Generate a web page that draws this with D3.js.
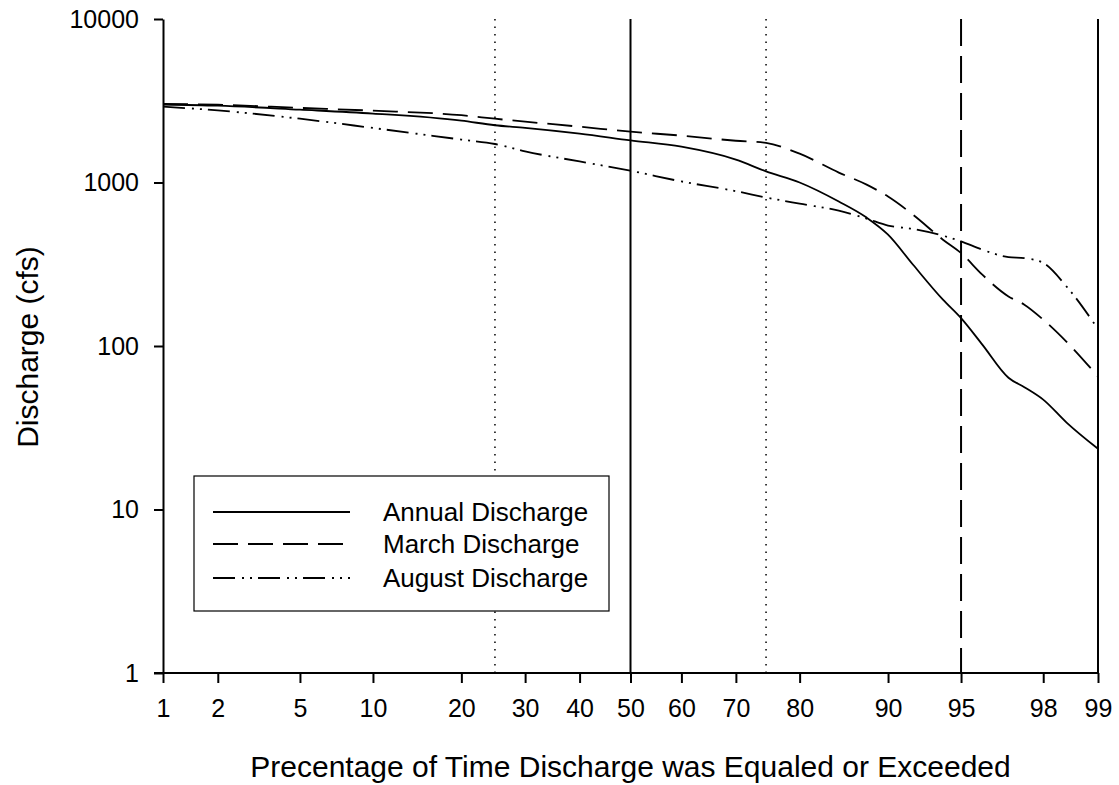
<!DOCTYPE html>
<html>
<head>
<meta charset="utf-8">
<script src="https://cdn.jsdelivr.net/npm/d3@7"></script>
<style>
  body { margin: 0; background: #fff; }
  text { font-family: Arial, "Liberation Sans", sans-serif; fill: #000; }
</style>
</head>
<body>
<div id="chart"></div>
<script>
// Exceedance percentages (x) and discharge values (cfs)
var percents = [1, 2, 5, 10, 20, 25, 30, 40, 50, 60, 70, 75, 80, 85, 88, 90, 92, 94, 95, 96, 97, 97.5, 98, 98.5, 99];
var annualQ  = [3000, 2950, 2790, 2640, 2390, 2240, 2160, 1990, 1810, 1655, 1380, 1170, 1000, 765, 610, 480, 315, 192, 148, 102, 64, 56, 47, 34, 23.5];
var marchQ   = [3030, 2990, 2860, 2750, 2580, 2455, 2355, 2195, 2045, 1935, 1800, 1745, 1500, 1150, 970, 820, 636, 447, 370, 273, 201, 179, 145, 106, 65];
var augustQ  = [2910, 2760, 2455, 2155, 1830, 1720, 1550, 1345, 1180, 1015, 885, 810, 742, 672, 601, 545, 520, 473, 437, 388, 350, 345, 322, 231, 127];

var xTicks = [1, 2, 5, 10, 20, 30, 40, 50, 60, 70, 80, 90, 95, 98, 99];
var yTicks = [1, 10, 100, 1000, 10000];
var seriesNames = ["Annual Discharge", "March Discharge", "August Discharge"];

// reference lines: 25/75 dotted, 50 solid, 95 dashed, 99 solid
var refLines = [25, 50, 75, 95, 99];
var refStyles = ["dot", "solid", "dot", "dash", "solid"];

///////////  SVG  ///////////
var svgWidth = 1119;
var svgHeight = 785;

var margin = { top: 19, right: 21, bottom: 112, left: 163 };
var chartWidth = svgWidth - margin.left - margin.right;
var chartHeight = svgHeight - margin.top - margin.bottom;

var svg = d3.select("#chart").append("svg")
    .attr("width", svgWidth)
    .attr("height", svgHeight);

var chartGrp = svg.append("g")
    .attr("transform", `translate(${margin.left}, ${margin.top})`);

// inverse normal CDF (Acklam) -> probability axis
function probit(p) {
    var a = [-3.969683028665376e+01, 2.209460984245205e+02, -2.759285104469687e+02, 1.383577518672690e+02, -3.066479806614716e+01, 2.506628277459239e+00];
    var b = [-5.447609879822406e+01, 1.615858368580409e+02, -1.556989798598866e+02, 6.680131188771972e+01, -1.328068155288572e+01];
    var c = [-7.784894002430293e-03, -3.223964580411365e-01, -2.400758277161838e+00, -2.549671669539434e+00, 4.374664141464968e+00, 2.938163982698783e+00];
    var d = [7.784695709041462e-03, 3.224671290700398e-01, 2.445134137142996e+00, 3.754408661907416e+00];
    var pl = 0.02425, q, r;
    if (p < pl) {
        q = Math.sqrt(-2 * Math.log(p));
        return (((((c[0]*q+c[1])*q+c[2])*q+c[3])*q+c[4])*q+c[5]) / ((((d[0]*q+d[1])*q+d[2])*q+d[3])*q+1);
    }
    if (p > 1 - pl) {
        q = Math.sqrt(-2 * Math.log(1 - p));
        return -(((((c[0]*q+c[1])*q+c[2])*q+c[3])*q+c[4])*q+c[5]) / ((((d[0]*q+d[1])*q+d[2])*q+d[3])*q+1);
    }
    q = p - 0.5; r = q * q;
    return (((((a[0]*r+a[1])*r+a[2])*r+a[3])*r+a[4])*r+a[5])*q / (((((b[0]*r+b[1])*r+b[2])*r+b[3])*r+b[4])*r+1);
}

var zScale = d3.scaleLinear()
    .domain([probit(0.01), probit(0.99)])
    .range([0, chartWidth]);
function xPos(p) { return zScale(probit(p / 100)); }

var yScale = d3.scaleLog()
    .domain([1, 10000])
    .range([chartHeight, 0]);

///////////  Reference lines  ///////////
var dashFor = { dot: "1.5,6", dash: "27,10", solid: null };
chartGrp.selectAll(".ref").data(refLines).enter().append("line")
    .attr("x1", d => xPos(d)).attr("x2", d => xPos(d))
    .attr("y1", 0).attr("y2", chartHeight)
    .attr("stroke", "#000")
    .attr("stroke-width", (d, i) => refStyles[i] === "dot" ? 1.5 : 2)
    .attr("stroke-dasharray", (d, i) => dashFor[refStyles[i]]);

///////////  Axes  ///////////
var bottomAxis = d3.axisBottom(zScale)
    .tickValues(xTicks.map(p => probit(p / 100)))
    .tickFormat((d, i) => xTicks[i])
    .tickSize(10).tickSizeOuter(0).tickPadding(16);

var xAxis = chartGrp.append("g")
    .attr("transform", `translate(0, ${chartHeight})`)
    .call(bottomAxis);

var leftAxis = d3.axisLeft(yScale)
    .tickValues(yTicks)
    .tickFormat(d3.format("d"))
    .tickSize(9).tickSizeOuter(0).tickPadding(15);

var yAxis = chartGrp.append("g").call(leftAxis);

[xAxis, yAxis].forEach(function(ax) {
    ax.select(".domain").attr("stroke", "#000").attr("stroke-width", 2);
    ax.selectAll(".tick line").attr("stroke", "#000").attr("stroke-width", 2);
    ax.selectAll("text").attr("font-size", "25px").attr("fill", "#000")
        .style("font-family", "Arial, 'Liberation Sans', sans-serif");
});
// x-axis line starts at the y-axis tick stub
xAxis.select(".domain").attr("d", `M-9,0H${chartWidth}`);

///////////  Curves  ///////////
var seriesData = [annualQ, marchQ, augustQ];
var seriesDash = [null, "25,10", "22,7,2,6,2,6"];

var lineGen = d3.line()
    .x(d => xPos(d.p))
    .y(d => yScale(d.q))
    .curve(d3.curveMonotoneX);

seriesData.forEach(function(vals, i) {
    var pts = percents.map((p, j) => ({ p: p, q: vals[j] }));
    chartGrp.append("path")
        .datum(pts)
        .attr("d", lineGen)
        .attr("fill", "none")
        .attr("stroke", "#000")
        .attr("stroke-width", 1.8)
        .attr("stroke-dasharray", seriesDash[i]);
});

///////////  Legend  ///////////
var legend = svg.append("g").attr("transform", "translate(194, 476)");
legend.append("rect")
    .attr("width", 415).attr("height", 135)
    .attr("fill", "#fff").attr("stroke", "#000").attr("stroke-width", 1.2);

var legendRows = [36, 68, 102];
seriesNames.forEach(function(name, i) {
    legend.append("line")
        .attr("x1", 19).attr("x2", 156)
        .attr("y1", legendRows[i]).attr("y2", legendRows[i])
        .attr("stroke", "#000").attr("stroke-width", 1.8)
        .attr("stroke-dasharray", seriesDash[i]);
    legend.append("text")
        .attr("x", 189).attr("y", legendRows[i])
        .attr("dy", "0.35em")
        .attr("font-size", "26px")
        .text(name);
});

///////////  Axis titles  ///////////
svg.append("text")
    .attr("x", margin.left + xPos(50))
    .attr("y", 777)
    .attr("text-anchor", "middle")
    .attr("font-size", "30px")
    .text("Precentage of Time Discharge was Equaled or Exceeded");

svg.append("text")
    .attr("transform", "translate(38, 347) rotate(-90)")
    .attr("text-anchor", "middle")
    .attr("font-size", "30px")
    .text("Discharge (cfs)");
</script>
</body>
</html>
